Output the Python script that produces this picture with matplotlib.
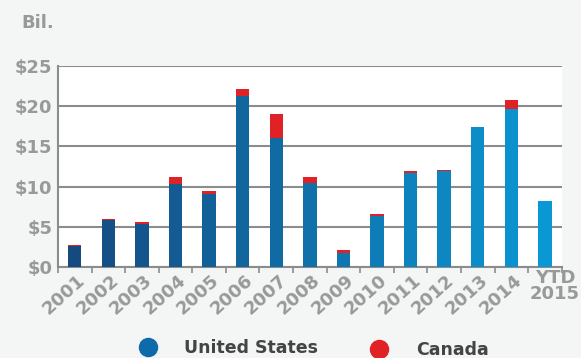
import matplotlib
matplotlib.use("Agg")
import matplotlib.pyplot as plt
import matplotlib.colors as mcolors
import numpy as np

# data, $ billions
years = ['2001', '2002', '2003', '2004', '2005', '2006', '2007', '2008',
         '2009', '2010', '2011', '2012', '2013', '2014', 'YTD\n2015']
us = [2.6, 5.9, 5.4, 10.3, 9.1, 21.3, 16.0, 10.4, 1.75, 6.4, 11.65, 11.95, 17.4, 19.7, 8.2]
canada = [0.1, 0.05, 0.2, 0.9, 0.35, 0.8, 3.0, 0.8, 0.4, 0.2, 0.25, 0.15, 0.0, 1.1, 0.0]
yticks = [0, 5, 10, 15, 20, 25]
ylabels = ['$0', '$5', '$10', '$15', '$20', '$25']

plt.rcParams['font.family'] = ['DejaVu Sans']
grey = '#999999'
bg = '#f4f5f5'
fs = 13

fig = plt.figure(figsize=(5.81, 3.58), dpi=100, facecolor=bg)
ax = fig.add_axes([0.0998, 0.254, 0.867, 0.562])
ax.set_facecolor('white')

# bars shade from dark to light blue
c0 = np.array(mcolors.to_rgb('#154a80'))
c1 = np.array(mcolors.to_rgb('#0a98d4'))
n = len(years)
us_colors = [tuple(c0 + (c1 - c0) * i / (n - 1)) for i in range(n)]

x = np.arange(n)
ax.bar(x, us, width=0.4, color=us_colors, zorder=3)
ax.bar(x, canada, width=0.4, bottom=us, color='#e02226', zorder=3)

ax.set_xlim(-0.5, n - 0.5)
ax.set_ylim(0, 25)
ax.set_yticks(yticks)
ax.set_yticklabels(ylabels, color=grey, fontsize=fs, fontweight='bold')
ax.yaxis.grid(True, color='#8c8c8c', linewidth=1.5, zorder=0)
ax.tick_params(axis='y', length=0, pad=4)

# ticks sit between the bars
ax.set_xticks(np.arange(-0.5, n, 1.0))
ax.set_xticklabels([])
ax.tick_params(axis='x', length=4, width=1.2, color='#8c8c8c', direction='out')
for i, lab in enumerate(years):
    if lab.startswith('YTD'):
        ax.text(i + 0.3, -0.3, lab, ha='center', va='top',
                color=grey, fontsize=fs, fontweight='bold', linespacing=0.8)
    else:
        ax.text(i + 0.05, -0.5, lab, ha='right', va='top', rotation=42,
                rotation_mode='anchor', color=grey, fontsize=fs, fontweight='bold')

for s in ['top', 'right']:
    ax.spines[s].set_visible(False)
for s in ['left', 'bottom']:
    ax.spines[s].set_color('#8c8c8c')
    ax.spines[s].set_linewidth(1.5)

fig.text(0.036, 0.935, 'Bil.', color=grey, fontsize=fs, fontweight='bold', va='center')

# legend
fig.add_artist(plt.Line2D([148 / 581], [1 - 347 / 358], marker='o', markersize=13,
                          color='#0f6aaa', linestyle='none'))
fig.text(184 / 581, 1 - 348 / 358, 'United States', color='#444444', fontsize=12.5,
         fontweight='bold', va='center')
fig.add_artist(plt.Line2D([379 / 581], [1 - 349 / 358], marker='o', markersize=13,
                          color='#e02226', linestyle='none'))
fig.text(416 / 581, 1 - 350 / 358, 'Canada', color='#444444', fontsize=12.5,
         fontweight='bold', va='center')

fig.savefig('out.png', dpi=100, facecolor=bg)
